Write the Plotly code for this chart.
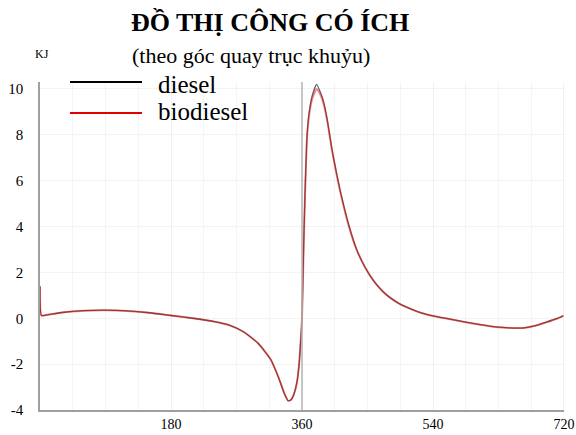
import plotly.graph_objects as go

angle = [0, 2, 10, 30, 60, 90, 120, 150, 180, 210, 240, 260, 280, 300, 317, 328, 336, 341, 345,
         349, 353, 356, 358, 360, 362, 364, 367, 370, 374, 380, 386, 390, 395, 401, 407, 413, 424,
         435, 447, 458, 470, 481, 493, 510, 525, 540, 560, 585, 605, 626, 645, 665, 680, 695, 710, 720]
diesel = [1.4, 0.12, 0.15, 0.25, 0.33, 0.35, 0.32, 0.24, 0.12, 0.0, -0.15, -0.3, -0.6, -1.1, -1.8,
          -2.6, -3.3, -3.6, -3.55, -3.3, -2.8, -2.0, -1.1, 0.0, 2.8, 5.3, 8.0, 9.0, 9.7, 10.2,
          9.8, 9.4, 8.6, 7.4, 6.4, 5.5, 4.1, 3.0, 2.2, 1.65, 1.2, 0.9, 0.65, 0.4, 0.22, 0.1, -0.02,
          -0.17, -0.28, -0.38, -0.42, -0.42, -0.33, -0.18, -0.02, 0.12]
biodiesel = [1.4, 0.12, 0.15, 0.25, 0.33, 0.35, 0.32, 0.24, 0.12, 0.0, -0.15, -0.3, -0.6, -1.1, -1.8,
             -2.6, -3.3, -3.6, -3.55, -3.3, -2.8, -2.0, -1.1, 0.0, 2.7, 5.2, 7.9, 8.9, 9.55, 10.0,
             9.7, 9.3, 8.55, 7.35, 6.35, 5.45, 4.05, 3.0, 2.2, 1.65, 1.2, 0.9, 0.65, 0.4, 0.22, 0.1, -0.02,
             -0.17, -0.28, -0.38, -0.42, -0.42, -0.33, -0.18, -0.02, 0.12]
x_ticks = [180, 360, 540, 720]
y_ticks = [-4, -2, 0, 2, 4, 6, 8, 10]
series_names = ["diesel", "biodiesel"]
series_colors = ["#000000", "#e00000"]

FONT = "Liberation Serif, Times New Roman, serif"

L, R, T, B = 40, 12, 82, 25
PW, PH = 576 - L - R, 435 - T - B

fig = go.Figure()
fig.add_trace(go.Scatter(x=angle, y=diesel, mode="lines", name=series_names[0], opacity=0.6,
                         line=dict(color=series_colors[0], width=1.3, shape="spline", smoothing=0.5)))
fig.add_trace(go.Scatter(x=angle, y=biodiesel, mode="lines", name=series_names[1], opacity=0.45,
                         line=dict(color=series_colors[1], width=2.0, shape="spline", smoothing=0.5)))

fig.add_vline(x=360, line=dict(color="#b4b4b4", width=1.5))
fig.add_vline(x=720, line=dict(color="#e4e4e4", width=1))

fig.update_layout(
    width=576, height=435,
    margin=dict(l=L, r=R, t=T, b=B, autoexpand=False),
    paper_bgcolor="white", plot_bgcolor="white",
    showlegend=False,
    font=dict(family=FONT, color="black", size=14),
)
fig.update_xaxes(range=[0, 720], tickvals=x_ticks, ticktext=[str(v) for v in x_ticks],
                 automargin=False,
                 showline=True, linecolor="#a0a0a0", linewidth=1.5,
                 showgrid=True, gridcolor="#f0f0f0", ticks="", zeroline=False,
                 ticklabeloverflow="allow",
                 minor=dict(dtick=45, showgrid=True, gridcolor="#f4f4f4"),
                 tickfont=dict(family=FONT, size=14))
fig.update_yaxes(range=[-4, 10.3], tickvals=y_ticks, ticktext=[str(v) for v in y_ticks],
                 automargin=False,
                 showline=True, linecolor="#a0a0a0", linewidth=1.5,
                 showgrid=True, gridcolor="#f3f3f3", ticks="", zeroline=False,
                 ticklabelstandoff=12, tickfont=dict(family=FONT, size=15))


def px_x(p):
    return (p - L) / PW


def px_y(p):
    return 1 - (p - T) / PH


# titles
fig.add_annotation(text="<b>ĐỒ THỊ CÔNG CÓ ÍCH</b>", xref="paper", yref="paper",
                   x=px_x(270), y=px_y(23), showarrow=False,
                   font=dict(family=FONT, size=26, color="black"), xanchor="center", yanchor="middle")
fig.add_annotation(text="(theo góc quay trục khuỷu)", xref="paper", yref="paper",
                   x=px_x(251), y=px_y(55), showarrow=False,
                   font=dict(family=FONT, size=22, color="black"), xanchor="center", yanchor="middle")
fig.add_annotation(text="KJ", xref="paper", yref="paper",
                   x=px_x(42), y=px_y(54), showarrow=False,
                   font=dict(family=FONT, size=12, color="black"), xanchor="center", yanchor="middle")

# legend
for i, (name, col, ly, ty) in enumerate(zip(series_names, series_colors, [82, 113], [84, 112])):
    fig.add_shape(type="line", xref="paper", yref="paper",
                  x0=px_x(70), x1=px_x(142), y0=px_y(ly), y1=px_y(ly),
                  line=dict(color=col, width=1.8))
    fig.add_annotation(text=name, xref="paper", yref="paper",
                       x=px_x(156), y=px_y(ty), showarrow=False, xanchor="left",
                       yanchor="middle", font=dict(family=FONT, size=25, color="black"))

fig.write_html("out.html", config={"displayModeBar": False},
               post_script="document.body.style.margin='0';document.body.style.overflow='hidden';")
